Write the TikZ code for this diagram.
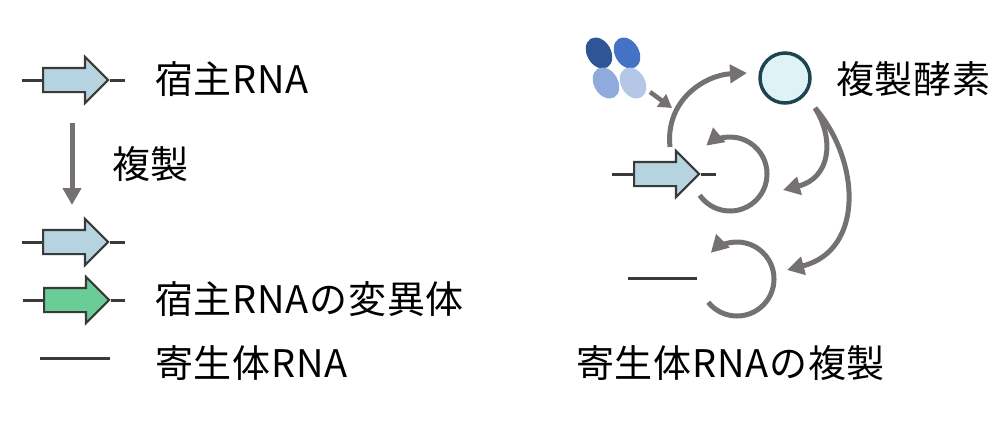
\documentclass[tikz,border=0pt]{standalone}
\usepackage{fontspec}
\setmainfont{Noto Sans CJK JP}[LetterSpace=2]
\usepackage{tikz}
\usetikzlibrary{arrows.meta,shapes.arrows,shapes.geometric}
\definecolor{flowgray}{HTML}{767171}
\definecolor{outline}{HTML}{3A3A3A}
\definecolor{hostblue}{HTML}{B6D4DF}
\definecolor{mutgreen}{HTML}{6ACD98}
\definecolor{enzfill}{HTML}{DFF3F6}
\definecolor{enzline}{HTML}{1F4451}
\definecolor{sub1}{HTML}{2F5597}
\definecolor{sub2}{HTML}{4472C4}
\definecolor{sub3}{HTML}{8FAADC}
\definecolor{sub4}{HTML}{B4C7E7}

\begin{document}
\begin{tikzpicture}[x=1pt,y=1pt]
        \tikzset{gene/.style = {single arrow,draw=outline,line width=2.2pt,fill=hostblue,minimum height=65pt,single arrow head extend=11pt,inner xsep=0pt,inner ysep=11pt,anchor=tail}}
        \tikzset{strand/.style = {draw=outline,line width=3pt}}
        \tikzset{flow/.style = {draw=flowgray,line width=5pt,-{Triangle[length=17pt,width=18pt]}}}
        \tikzset{label/.style = {anchor=base west,inner sep=0pt,font=\fontsize{38}{45}\selectfont}}
        \tikzset{subunit/.style = {ellipse,minimum width=24pt,minimum height=33pt,inner sep=0pt,rotate=30}}
        \tikzset{enzyme/.style = {circle,draw=enzline,fill=enzfill,line width=3.5pt,minimum size=50pt,inner sep=0pt}}

        \useasboundingbox (0,0) rectangle (1000,-421);

        % legend
        \node[gene] (G1) at (42,-80) {};
        \node[gene] (G2) at (42,-242) {};
        \node[gene,fill=mutgreen] (G3) at (43,-300) {};
        \draw[strand] ([xshift=-20pt]G1.tail) -- (G1.tail);
        \draw[strand] (G1.tip) -- ([xshift=15pt]G1.tip);
        \draw[strand] ([xshift=-20pt]G2.tail) -- (G2.tail);
        \draw[strand] (G2.tip) -- ([xshift=15pt]G2.tip);
        \draw[strand] ([xshift=-20pt]G3.tail) -- (G3.tail);
        \draw[strand] (G3.tip) -- ([xshift=14pt]G3.tip);
        \coordinate (P1) at (40,-358);
        \coordinate (P2) at (110,-358);
        \draw[strand] (P1) -- (P2);

        \coordinate (D1) at (72,-123);
        \coordinate (D2) at (72,-205);
        \draw[flow] (D1) -- (D2);

        \node[label] (L1) at (155,-93) {宿主RNA};
        \node[label] (L2) at (112,-178) {複製};
        \node[label] (L3) at (155,-313) {宿主RNAの変異体};
        \node[label] (L4) at (155,-377) {寄生体RNA};

        % replication
        \node[subunit,fill=sub1] (S1) at (599,-53) {};
        \node[subunit,fill=sub2] (S2) at (627,-53) {};
        \node[subunit,fill=sub3] (S3) at (606,-83) {};
        \node[subunit,fill=sub4] (S4) at (633,-83) {};

        \node[enzyme] (E) at (785,-78) {};
        \node[label] (L5) at (836,-93) {複製酵素};

        \node[gene] (G4) at (633,-174) {};
        \draw[strand] ([xshift=-21pt]G4.tail) -- (G4.tail);
        \draw[strand] (G4.tip) -- ([xshift=15pt]G4.tip);
        \coordinate (P3) at (628,-278);
        \coordinate (P4) at (697,-278);
        \draw[strand] (P3) -- (P4);

        \coordinate (A1) at (650,-92);
        \coordinate (A2) at (672,-108);
        \draw[draw=flowgray,line width=4.5pt,-{Triangle[length=13pt,width=15pt]}] (A1) -- (A2);

        \coordinate (B1) at (670,-147);
        \coordinate (B2) at (747,-73);
        \draw[flow] (B1) .. controls (665,-100) and (705,-75) .. (B2);

        \coordinate (C1) at (730,-174);
        \coordinate (C2) at (737,-279);
        \draw[flow] (C1) ++(-145:37) arc[start angle=-145,end angle=130,radius=37];
        \draw[flow] (C2) ++(-141:37) arc[start angle=-141,end angle=135,radius=37];

        \coordinate (K0) at (815,-108);
        \coordinate (K1) at (783,-190);
        \coordinate (K2) at (787,-270);
        \draw[flow] (K0) .. controls (835,-140) and (830,-178) .. (K1);
        \draw[flow] (K0) .. controls (860,-160) and (865,-250) .. (K2);

        \node[label] (L6) at (576,-377) {寄生体RNAの複製};
\end{tikzpicture}
\end{document}
